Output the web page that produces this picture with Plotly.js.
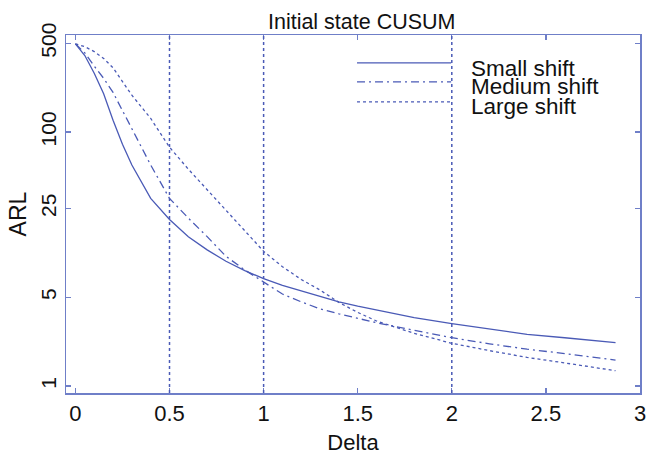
<!DOCTYPE html>
<html><head><meta charset="utf-8">
<script src="https://cdn.plot.ly/plotly-3.0.1.min.js"></script>
<style>html,body{margin:0;padding:0;background:#fff}</style>
</head><body><div id="chart" style="width:646px;height:455px"></div>
<script>
// ---- data ----
const delta       = [0, 0.05, 0.1, 0.15, 0.2, 0.25, 0.3, 0.4, 0.5, 0.6, 0.7, 0.8, 0.9, 1.0, 1.1, 1.2, 1.3, 1.4, 1.5, 1.6, 1.8, 2.0, 2.2, 2.4, 2.6, 2.87];
const smallShift  = [495, 400, 290, 200, 124, 80, 55, 30, 20.5, 15, 11.8, 9.6, 8.1, 7.0, 6.2, 5.6, 5.1, 4.6, 4.25, 3.95, 3.45, 3.1, 2.8, 2.55, 2.4, 2.2];
const mediumShift = [495, 420, 330, 265, 205, 148, 105, 55, 30, 21, 15, 10.5, 8.2, 6.6, 5.3, 4.6, 4.05, 3.7, 3.4, 3.15, 2.75, 2.4, 2.15, 1.95, 1.8, 1.6];
const largeShift  = [495, 470, 430, 380, 320, 250, 195, 128, 76, 51, 35, 24.3, 16.7, 11.5, 8.7, 6.9, 5.7, 4.55, 3.8, 3.25, 2.6, 2.17, 1.9, 1.68, 1.52, 1.32];
const seriesNames = ['Small shift', 'Medium shift', 'Large shift'];
const refDeltas   = [0.5, 1, 2];
const xTickVals   = [0, 0.5, 1, 1.5, 2, 2.5, 3];
const xTickText   = ['0', '0.5', '1', '1.5', '2', '2.5', '3'];
const yTickVals   = [1, 5, 25, 100, 500];
const yTickText   = ['1', '5', '25', '100', '500'];

// ---- styles ----
const lineColor = '#4a5ab6';
const axisColor = '#6f7fc8';
const FONT = 'Liberation Sans, Arial, sans-serif';
const dashes = ['solid', '8px,4px,2px,4px', '3px,3px'];
const seriesValues = [smallShift, mediumShift, largeShift];

const traces = seriesValues.map((vals, i) => ({
  type: 'scatter', mode: 'lines', x: delta, y: vals, name: seriesNames[i],
  line: {color: lineColor, width: 1.3, dash: dashes[i]}, showlegend: false,
  hoverinfo: 'skip'
}));

const shapes = refDeltas.map(v => ({
  type: 'line', xref: 'x', yref: 'paper', x0: v, x1: v, y0: 0, y1: 1,
  line: {color: lineColor, width: 1.5, dash: '3px,3px'}
}));

// legend (MATLAB-style, tightly packed)
const keyY = [0.922, 0.869, 0.813];
const textY = [0.906, 0.855, 0.801];
const annotations = [];
seriesNames.forEach((n, i) => {
  shapes.push({type: 'line', xref: 'paper', yref: 'paper', x0: 0.507, x1: 0.671,
    y0: keyY[i], y1: keyY[i], line: {color: lineColor, width: 1.3, dash: dashes[i]}});
  annotations.push({xref: 'paper', yref: 'paper', x: 0.702, y: textY[i], xanchor: 'left',
    yanchor: 'middle', text: n, showarrow: false, font: {family: FONT, size: 22.5, color: '#111'}});
});

const layout = {
  width: 646, height: 455,
  margin: {l: 66, r: 6, t: 35, b: 62},
  paper_bgcolor: '#fff', plot_bgcolor: '#fff',
  font: {family: FONT, color: '#111'},
  title: {text: 'Initial state CUSUM', font: {family: FONT, size: 21.5, color: '#111'},
    x: 0.56, xanchor: 'center', xref: 'container', y: 0.953, yanchor: 'middle', yref: 'container'},
  xaxis: {
    range: [-0.05, 3], tickvals: xTickVals, ticktext: xTickText,
    ticks: 'inside', ticklen: 5, tickwidth: 1.2, tickcolor: axisColor,
    showline: true, linecolor: axisColor, linewidth: 1.5, mirror: 'ticks',
    showgrid: false, zeroline: false, ticklabeloverflow: 'allow',
    tickfont: {family: FONT, size: 22, color: '#111'},
    title: {text: 'Delta', font: {family: FONT, size: 22, color: '#111'}, standoff: 10}
  },
  yaxis: {
    type: 'log', range: [-0.055, 2.764], tickvals: yTickVals, ticktext: yTickText,
    ticks: 'inside', ticklen: 5, tickwidth: 1.2, tickcolor: axisColor,
    showline: true, linecolor: axisColor, linewidth: 1.5, mirror: 'ticks',
    showgrid: false, zeroline: false, tickangle: -90, ticklabeloverflow: 'allow',
    tickfont: {family: FONT, size: 21, color: '#111'},
    title: {text: 'ARL', font: {family: FONT, size: 23, color: '#111'}, standoff: 4}
  },
  shapes: shapes,
  annotations: annotations,
  showlegend: false
};

Plotly.newPlot('chart', traces, layout, {displayModeBar: false, staticPlot: true});
</script>
</body></html>
